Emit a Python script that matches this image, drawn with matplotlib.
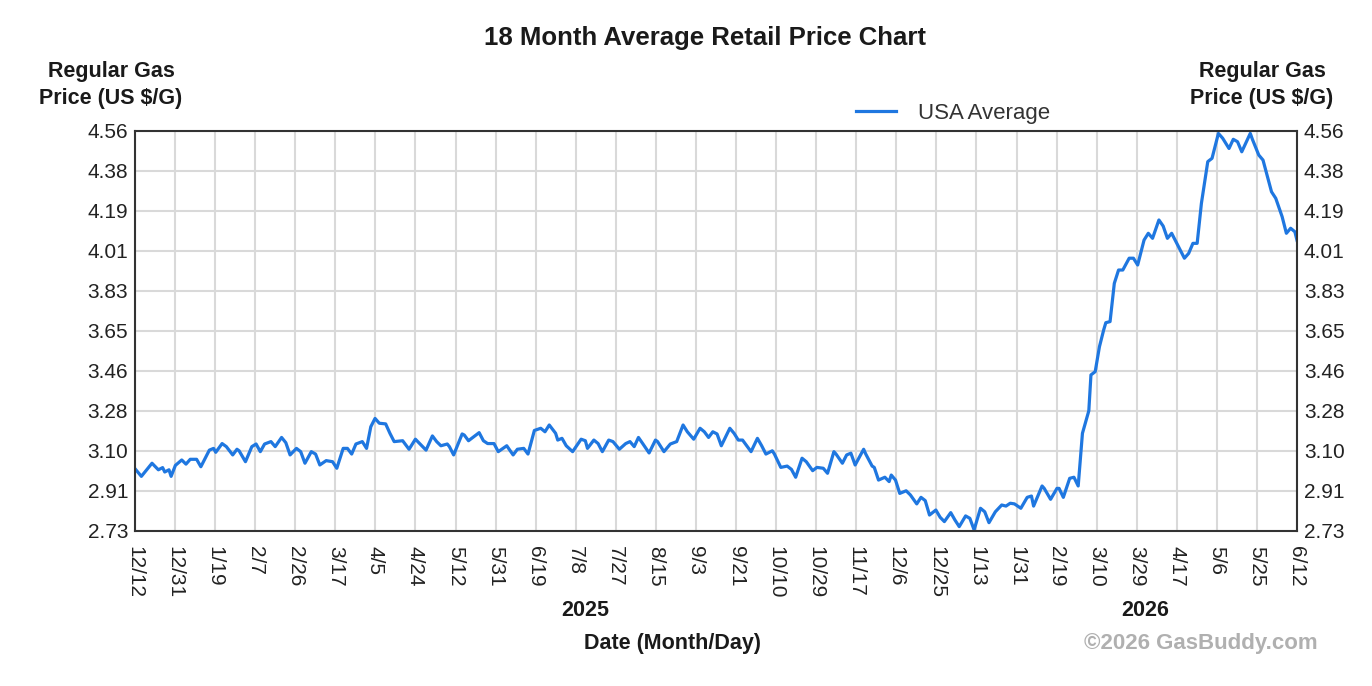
import matplotlib
matplotlib.use("Agg")
import matplotlib.pyplot as plt
import numpy as np

plt.rcParams['font.family'] = ['Liberation Sans', 'DejaVu Sans']

# ---- data (days since 2024-12-12, USA average regular gas price) ----
days = [0, 3, 8, 11, 13, 14, 16, 17, 19, 22, 24, 26, 29, 31, 35, 37, 38, 41, 43, 46,
        48, 49, 52, 55, 57, 59, 61, 64, 66, 69, 71, 73, 76, 78, 80, 83, 85, 87, 90, 93,
        95, 98, 100, 102, 104, 107, 109, 111, 113, 115, 118, 120, 122, 126, 129, 132, 134, 137, 140, 142,
        144, 147, 148, 150, 154, 155, 157, 162, 164, 166, 169, 171, 175, 178, 180, 183, 185, 188, 191, 193,
        195, 198, 199, 201, 203, 206, 210, 212, 213, 216, 218, 220, 223, 225, 228, 231, 233, 235, 237, 239,
        242, 245, 246, 249, 252, 255, 258, 260, 263, 266, 268, 270, 272, 274, 276, 280, 282, 284, 286, 290,
        293, 295, 297, 300, 301, 304, 307, 309, 311, 314, 316, 319, 321, 324, 326, 329, 330, 333, 335, 337,
        339, 343, 344, 347, 348, 350, 353, 355, 356, 358, 360, 363, 365, 368, 370, 372, 374, 377, 379, 381,
        384, 386, 388, 391, 393, 395, 398, 400, 402, 405, 408, 410, 412, 414, 417, 420, 422, 423, 427, 428,
        431, 434, 435, 437, 440, 442, 444, 446, 449, 450, 452, 454, 456, 457, 459, 461, 463, 465, 468, 470,
        472, 475, 477, 479, 482, 484, 486, 488, 490, 494, 496, 498, 500, 502, 505, 507, 510, 512, 515, 517,
        519, 521, 525, 526, 529, 531, 535, 537, 540, 542, 544, 546, 547]
prices = [3.015, 2.98, 3.04, 3.01, 3.02, 3.00, 3.01, 2.98, 3.03, 3.055, 3.036, 3.058, 3.058, 3.024, 3.10, 3.108, 3.09, 3.13, 3.116, 3.078,
          3.104, 3.097, 3.047, 3.116, 3.128, 3.093, 3.128, 3.139, 3.116, 3.158, 3.134, 3.078, 3.108, 3.093, 3.04, 3.093, 3.082, 3.032, 3.052, 3.047,
          3.017, 3.108, 3.108, 3.082, 3.128, 3.139, 3.108, 3.207, 3.245, 3.223, 3.22, 3.177, 3.139, 3.143, 3.104, 3.15, 3.13, 3.10, 3.165, 3.139,
          3.12, 3.128, 3.116, 3.078, 3.174, 3.169, 3.143, 3.18, 3.143, 3.13, 3.13, 3.093, 3.12, 3.078, 3.104, 3.108, 3.082, 3.19, 3.20, 3.184,
          3.215, 3.177, 3.146, 3.154, 3.12, 3.093, 3.15, 3.143, 3.108, 3.146, 3.13, 3.093, 3.146, 3.139, 3.104, 3.13, 3.139, 3.116, 3.158, 3.13,
          3.087, 3.146, 3.139, 3.093, 3.128, 3.139, 3.215, 3.184, 3.15, 3.20, 3.184, 3.158, 3.184, 3.174, 3.12, 3.20, 3.177, 3.146, 3.146, 3.093,
          3.154, 3.12, 3.082, 3.097, 3.082, 3.021, 3.027, 3.012, 2.976, 3.063, 3.047, 3.006, 3.021, 3.017, 2.994, 3.093, 3.082, 3.04, 3.078, 3.086,
          3.032, 3.104, 3.082, 3.027, 3.021, 2.963, 2.976, 2.956, 2.986, 2.963, 2.902, 2.914, 2.895, 2.854, 2.884, 2.869, 2.803, 2.826, 2.793, 2.773,
          2.814, 2.78, 2.75, 2.799, 2.788, 2.735, 2.834, 2.818, 2.768, 2.818, 2.849, 2.844, 2.857, 2.854, 2.834, 2.884, 2.89, 2.844, 2.936, 2.925,
          2.875, 2.925, 2.925, 2.884, 2.971, 2.976, 2.936, 3.177, 3.28, 3.444, 3.459, 3.573, 3.65, 3.683, 3.688, 3.863, 3.924, 3.924, 3.978, 3.978,
          3.947, 4.061, 4.092, 4.069, 4.153, 4.125, 4.069, 4.092, 4.054, 3.978, 4.0, 4.046, 4.046, 4.229, 4.42, 4.435, 4.549, 4.527, 4.48, 4.522,
          4.511, 4.465, 4.549, 4.522, 4.45, 4.427, 4.282, 4.252, 4.168, 4.092, 4.115, 4.099, 4.06]

x_tick_labels = ["12/12", "12/31", "1/19", "2/7", "2/26", "3/17", "4/5", "4/24", "5/12", "5/31",
                 "6/19", "7/8", "7/27", "8/15", "9/3", "9/21", "10/10", "10/29", "11/17", "12/6",
                 "12/25", "1/13", "1/31", "2/19", "3/10", "3/29", "4/17", "5/6", "5/25", "6/12"]
y_tick_labels = ["2.73", "2.91", "3.10", "3.28", "3.46", "3.65", "3.83", "4.01", "4.19", "4.38", "4.56"]
year_labels = ["2025", "2026"]
series_name = "USA Average"
total_days = 547

W, H = 1372, 686
fig = plt.figure(figsize=(W / 100, H / 100), dpi=100)
L, R, T, B = 135, 1297, 131, 531
ax = fig.add_axes([L / W, 1 - B / H, (R - L) / W, (B - T) / H])

line_color = "#1f77e0"
ax.plot(days, prices, color=line_color, lw=2.3, label=series_name, solid_joinstyle='round')

ymin, ymax = float(y_tick_labels[0]), float(y_tick_labels[-1])
ax.set_xlim(0, total_days)
ax.set_ylim(ymin, ymax)
ax.set_xticks(np.linspace(0, total_days, len(x_tick_labels)))
ax.set_xticklabels(x_tick_labels, rotation=270, fontsize=15, color="#222222")
ax.set_yticks(np.linspace(ymin, ymax, len(y_tick_labels)))
ax.set_yticklabels(y_tick_labels, fontsize=15, color="#222222")
ax.tick_params(axis='x', length=0, pad=11)
ax.tick_params(axis='y', length=0, pad=5, labelleft=True, labelright=True)
ax.grid(True, color="#d9d9d9", lw=1.5)
ax.set_axisbelow(True)
for s in ax.spines.values():
    s.set_color("#333333")
    s.set_linewidth(1.5)

# titles / labels
fig.text(705 / W, 1 - 38 / H, "18 Month Average Retail Price Chart", ha='center', va='center',
         fontsize=18.5, fontweight='bold', color="#1a1a1a")
for cx in (111, 1262):
    fig.text(cx / W, 1 - 85 / H, "Regular Gas\nPrice (US $/G)", ha='center', va='center',
             fontsize=15.5, fontweight='bold', color="#1a1a1a", linespacing=1.4)
fig.text(585 / W, 1 - 610 / H, year_labels[0], ha='center', va='center', fontsize=15.5,
         fontweight='bold', color="#1a1a1a")
fig.text(1145 / W, 1 - 610 / H, year_labels[1], ha='center', va='center', fontsize=15.5,
         fontweight='bold', color="#1a1a1a")
fig.text(672 / W, 1 - 643 / H, "Date (Month/Day)", ha='center', va='center', fontsize=15.5,
         fontweight='bold', color="#1a1a1a")
fig.text(1201 / W, 1 - 643 / H, "\u00a92026 GasBuddy.com", ha='center', va='center', fontsize=16,
         fontweight='bold', color="#b0b0b0")

leg = ax.legend(loc='center left', bbox_to_anchor=(856 / W, 1 - 113 / H),
                bbox_transform=fig.transFigure, frameon=False, fontsize=16,
                handlelength=1.8, handletextpad=1.0, borderpad=0, borderaxespad=0)
for t in leg.get_texts():
    t.set_color("#333333")

fig.savefig("out.png", dpi=100)
